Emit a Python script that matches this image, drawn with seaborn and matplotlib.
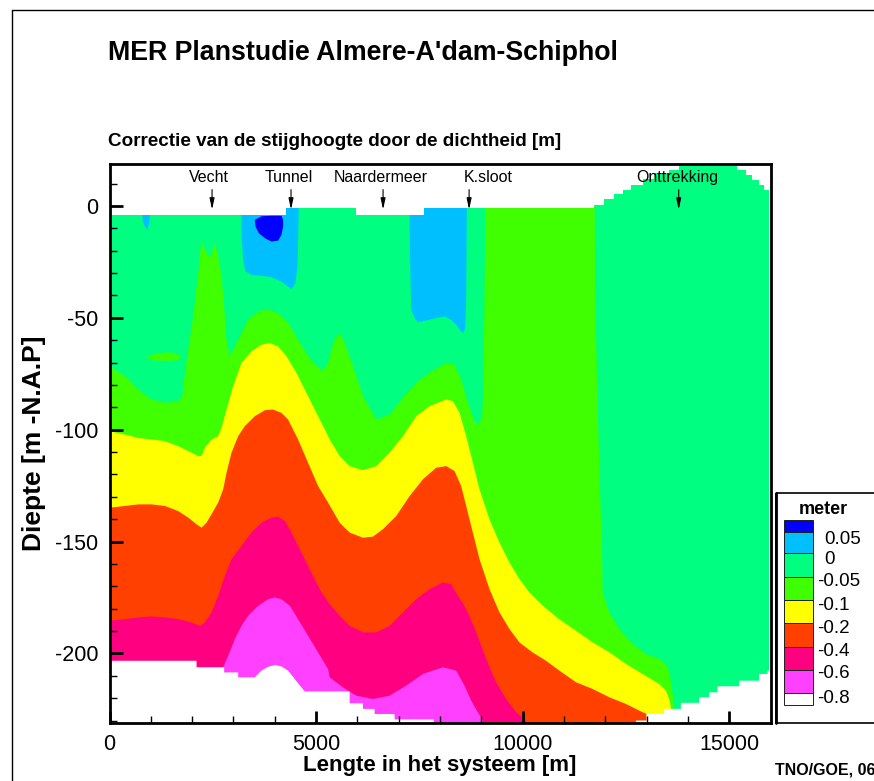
import numpy as np
import matplotlib
matplotlib.use("Agg")
import matplotlib.pyplot as plt
from matplotlib.patches import Rectangle
import seaborn as sns

# ---------------- data ----------------
# contour levels [m] and the Tecplot band colours (highest band first)
level_labels = ["0.05", "0", "-0.05", "-0.1", "-0.2", "-0.4", "-0.6", "-0.8"]
band_colors = ["#0000FF", "#00BFFF", "#00FF80", "#40FF00", "#FFFF00",
               "#FF4000", "#FF0080", "#FF40FF", "#FFFFFF"]

# depth [m] of the upper edge of each band, as a function of x [m]
# (-240 = band absent, below the model bottom)
b_green_x = [0, 375, 697, 1019, 1342, 1664, 1760, 1809, 1905, 2026, 2147, 2227, 2308, 2429,
             2550, 2630, 2711, 2775, 2832, 2912, 3033, 3194, 3356, 3597, 3839, 4081, 4323,
             4564, 4806, 5048, 5169, 5290, 5370, 5450, 5571, 5692, 5893, 6135, 6457, 6779,
             7102, 7424, 7746, 8149, 8350, 8511, 8672, 8834, 8938, 9019, 9051, 9076, 9092,
             9116, 11733, 11760, 11800, 11860, 11920, 11934, 12096, 12337, 12660, 12982,
             13304, 13465, 13546, 13626, 13667, 13680, 16000]
b_green_d = [-71.7, -76.1, -82.1, -86.5, -88.0, -87.3, -85.1, -77.6, -64.2, -49.4, -30.0,
             -15.2, -19.6, -23.3, -16.7, -22.6, -31.5, -44.9, -59.8, -67.2, -62.8, -56.8,
             -50.9, -47.1, -46.4, -47.9, -52.3, -59.8, -67.2, -72.4, -73.5, -70.2, -64.0,
             -59.8, -56.8, -61.3, -71.7, -85.1, -95.5, -93.2, -85.8, -79.1, -74.6, -70.2,
             -70.9, -77.6, -88.0, -96.2, -97.7, -94.0, -79.1, -41.9, -12.2, 19, 19, -40,
             -80, -120, -155, -172.8, -181.7, -189.1, -195.8, -200.3, -202.5, -204.7,
             -208.5, -217.4, -224.1, -240, -240]

b_yellow_x = [0, 375, 697, 1019, 1342, 1664, 1986, 2147, 2227, 2308, 2469, 2630, 2711, 2832,
              2993, 3194, 3436, 3678, 3879, 4081, 4282, 4524, 4766, 5008, 5250, 5329, 5571,
              5812, 6135, 6457, 6779, 7102, 7424, 7746, 8149, 8310, 8472, 8632, 8794, 8955,
              9197, 9438, 9680, 9921, 10163, 10486, 10888, 11290, 11693, 12096, 12498,
              12901, 13304, 13465, 13546, 13586, 13600, 16000]
b_yellow_d = [-100.7, -102.2, -103.7, -104.4, -105.1, -107.4, -110.3, -111.8, -111.8, -108.1,
              -104.4, -102.9, -99.2, -91.0, -80.6, -70.2, -65.0, -62.0, -61.3, -62.8, -67.2,
              -74.6, -83.6, -92.5, -101.4, -104.4, -111.8, -116.3, -118.1, -116.3, -110.3,
              -102.9, -94.0, -89.5, -86.5, -87.3, -92.5, -102.9, -114.8, -126.7, -140.1,
              -150.5, -159.4, -166.8, -172.8, -178.7, -184.8, -189.9, -195.1, -199.5,
              -204.7, -209.2, -213.7, -216.6, -220.4, -224.1, -240, -240]

b_orange_x = [0, 375, 697, 1019, 1342, 1664, 1905, 2107, 2227, 2348, 2469, 2630, 2751, 2832,
              2953, 3114, 3275, 3517, 3759, 3960, 4162, 4323, 4564, 4806, 5048, 5290, 5571,
              5812, 6135, 6376, 6618, 6940, 7263, 7585, 7907, 8149, 8350, 8511, 8632, 8794,
              8955, 9197, 9438, 9680, 9921, 10243, 10566, 10888, 11290, 11693, 12096, 12498,
              12901, 12998, 13010, 16000]
b_orange_d = [-134.9, -134.1, -133.4, -133.4, -134.1, -136.4, -139.3, -142.3, -143.8, -141.6,
              -137.8, -132.6, -126.7, -119.3, -110.3, -102.9, -98.4, -94.0, -91.3, -91.0,
              -92.5, -95.5, -104.4, -114.8, -125.2, -132.6, -141.6, -146.0, -148.3, -147.8,
              -144.5, -138.6, -129.7, -122.2, -117.0, -116.3, -118.5, -125.2, -134.1, -146.0,
              -157.9, -171.3, -181.7, -189.1, -195.1, -199.6, -203.3, -207.7, -212.9,
              -215.9, -219.6, -222.6, -226.3, -227.0, -240, -240]

b_pink_x = [0, 375, 697, 1019, 1342, 1664, 1986, 2187, 2308, 2469, 2630, 2792, 2953, 3194,
            3436, 3678, 3920, 4081, 4242, 4403, 4645, 4887, 5129, 5330, 5571, 5812, 6135,
            6457, 6779, 7102, 7424, 7746, 8068, 8270, 8431, 8552, 8713, 8874, 9116, 9358,
            9600, 9841, 10083, 10150, 16000]
b_pink_d = [-185.4, -184.7, -183.9, -183.5, -183.9, -184.7, -186.2, -187.7, -186.2, -181.7,
            -174.3, -165.4, -157.9, -152.0, -146.0, -141.6, -139.3, -138.9, -140.8, -146.0,
            -154.9, -163.9, -172.8, -178.0, -183.2, -187.7, -190.6, -190.6, -187.7, -181.7,
            -175.8, -171.3, -168.3, -169.1, -174.3, -177.5, -183.5, -190.6, -202.5, -213.0,
            -220.4, -226.3, -230.0, -240, -240]

b_magenta_x = [0, 2740, 2751, 2872, 3033, 3194, 3356, 3597, 3839, 4000, 4162, 4363, 4564,
               4806, 5048, 5290, 5329, 5651, 5974, 6376, 6779, 7182, 7585, 8068, 8390, 8592,
               8753, 8914, 9035, 9050, 16000]
b_magenta_d = [-240, -240, -206.2, -201.0, -193.6, -187.7, -183.2, -178.7, -175.8, -175.0,
               -175.8, -178.7, -184.7, -192.1, -199.6, -207.0, -210.7, -215.2, -218.9,
               -220.4, -218.9, -214.4, -209.2, -206.2, -207.7, -214.4, -221.1, -226.3,
               -230.0, -240, -240]

# model bottom (white below)
bottom_x = [0, 2107, 2107, 2775, 2775, 3114, 3114, 3517, 3678, 3839, 4000, 4162, 4323, 4484,
            4645, 4726, 5812, 5812, 6135, 6135, 6417, 6417, 6900, 6900, 7850, 7850, 12740,
            12740, 12998, 12998, 13425, 13425, 13828, 13828, 14271, 14271, 14513, 14513,
            14714, 14714, 15238, 15238, 15721, 15721, 15923, 15923, 16000]
bottom_d = [-203.3, -203.3, -206.2, -206.2, -208.5, -208.5, -210.7, -210.7, -207.7, -206.0,
            -205.2, -205.8, -207.7, -211.5, -215.2, -217.0, -217.0, -222.3, -222.3, -224.8,
            -224.8, -227.1, -227.1, -229.5, -229.5, -240, -240, -230.0, -230.0, -227.0,
            -227.0, -224.8, -224.8, -222.1, -222.1, -219.6, -219.6, -217.4, -217.4, -214.7,
            -214.7, -212.2, -212.2, -209.2, -209.2, -207.7, -207.7]

# model top (white above), stepwise
top_x = [0, 4280, 5973, 7609, 11733, 11975, 12216, 12418, 12619, 12901, 13183, 13546, 13788,
         15197, 15399, 15560, 15721, 15842, 15950, 16000]
top_d = [-4.0, -1.0, -4.0, -1.0, 0.6, 3.3, 5.4, 7.3, 9.5, 12.2, 14.7, 16.2, 18.1, 16.2, 14.0,
         11.7, 9.5, 7.3, -240, -240]

# pockets of 0 .. 0.05 (light blue), > 0.05 (blue) and a small -0.05 .. -0.1 lens
drip_x = [778, 995, 963, 914, 858, 802]
drip_d = [0, 0, -7.7, -10.7, -9.2, -6.5]
tunnel_x = [3194, 3194, 3235, 3291, 3436, 3678, 3920, 4162, 4323, 4403, 4500, 4548, 4564, 4580]
tunnel_d = [0, -12.2, -24.1, -29.3, -30.8, -31.2, -31.8, -33.8, -36.0, -37.2, -34.5, -27.1,
            -16.7, 0]
core_x = [3517, 3678, 3920, 4162, 4202, 4202, 4162, 4081, 3920, 3759, 3614, 3533]
core_d = [-6.2, -4.6, -4.4, -4.4, -6.2, -9.2, -12.9, -15.5, -15.9, -14.4, -12.2, -9.2]
ksloot_x = [7263, 7270, 7287, 7303, 7384, 7464, 7665, 7907, 8109, 8270, 8391, 8511, 8568,
            8608, 8632, 8648]
ksloot_d = [0, -20.0, -34.5, -46.4, -50.1, -51.9, -51.2, -50.1, -49.4, -50.9, -53.1, -56.1,
            -56.8, -54.6, -41.9, 0]
lens_x = [880, 1100, 1422, 1624, 1744, 1503, 1100]
lens_d = [-68.0, -66.0, -65.4, -66.0, -68.3, -69.2, -69.1]

# locations marked above the section
place_names = ["Vecht", "Tunnel", "Naardermeer", "K.sloot", "Onttrekking"]
place_text_x = [2405, 4338, 6573, 9171, 13739]
place_arrow_x = [2482, 4393, 6621, 8703, 13776]

xticks_major = [0, 5000, 10000, 15000]
yticks_major = [-200, -150, -100, -50, 0]

# ---------------- styling ----------------
sns.set_theme(style="white", rc={"axes.edgecolor": "black", "text.color": "black",
                                 "xtick.color": "black", "ytick.color": "black",
                                 "axes.labelcolor": "black"})
plt.rcParams["font.family"] = ["Liberation Sans", "DejaVu Sans"]
plt.rcParams["axes.unicode_minus"] = False
pal = sns.color_palette(band_colors)

W, H = 874, 781
fig = plt.figure(figsize=(W / 100, H / 100), dpi=100)
fig.patch.set_facecolor("white")
AX_L, AX_R, AX_T, AX_B = 109.5, 770.6, 164.0, 723.3
ax = fig.add_axes([AX_L / W, 1 - AX_B / H, (AX_R - AX_L) / W, (AX_B - AX_T) / H])
ax.set_axisbelow(False)

FLOOR, CEIL = -260, 40
kw = dict(lw=0, edgecolor="none")
ax.fill_between([0, 16000], FLOOR, CEIL, color=pal[2], **kw)
bands = [(b_green_x, b_green_d), (b_yellow_x, b_yellow_d), (b_orange_x, b_orange_d),
         (b_pink_x, b_pink_d), (b_magenta_x, b_magenta_d)]
for (bx, bd), col in zip(bands, pal[3:8]):
    ax.fill_between(bx, bd, FLOOR, color=col, **kw)
ax.fill_between(bottom_x, bottom_d, FLOOR, color=pal[8], **kw)
ax.fill(lens_x, lens_d, color=pal[3], **kw)
ax.fill(drip_x, drip_d, color=pal[1], **kw)
ax.fill(tunnel_x, tunnel_d, color=pal[1], **kw)
ax.fill(ksloot_x, ksloot_d, color=pal[1], **kw)
ax.fill(core_x, core_d, color=pal[0], **kw)
ax.fill_between(top_x, top_d, CEIL, step="post", color="white", **kw)

for name, tx, axx in zip(place_names, place_text_x, place_arrow_x):
    ax.text(tx, 12.5, name, ha="center", va="center", fontsize=11.5, zorder=6)
    ax.annotate("", xy=(axx, -1.6), xytext=(axx, 7.3), zorder=6,
                arrowprops=dict(arrowstyle="-|>,head_length=0.55,head_width=0.12",
                                color="black", lw=0.8, shrinkA=0, shrinkB=0))

ax.set_xlim(0, 16000)
ax.set_ylim(-231.25, 18.75)
ax.set_xticks(xticks_major)
ax.set_xticks(np.arange(0, 16001, 1000), minor=True)
ax.set_yticks(yticks_major)
ax.set_yticks(np.arange(-230, 11, 10), minor=True)
ax.tick_params(which="both", direction="in", bottom=True, left=True, top=False, right=False)
ax.tick_params(which="major", length=9, width=2, labelsize=15.5)
ax.tick_params(axis="x", which="major", pad=8)
ax.tick_params(axis="y", which="major", pad=8)
ax.tick_params(which="minor", length=5, width=1)
for s in ax.spines.values():
    s.set_linewidth(2)
    s.set_color("black")
    s.set_zorder(7)

# ---------------- texts ----------------
fig.text(108 / W, 1 - 53 / H, "MER Planstudie Almere-A'dam-Schiphol", fontsize=19.3,
         weight="bold", ha="left", va="center")
fig.text(108 / W, 1 - 142 / H, "Correctie van de stijghoogte door de dichtheid [m]",
         fontsize=13.6, weight="bold", ha="left", va="center")
fig.text(440 / W, 1 - 765 / H, "Lengte in het systeem [m]", fontsize=16, weight="bold",
         ha="center", va="center")
fig.text(34 / W, 1 - 443.6 / H, "Diepte [m -N.A.P]", fontsize=19, weight="bold",
         rotation=90, ha="center", va="center")
fig.text(775 / W, 1 - 770 / H, "TNO/GOE, 06", fontsize=11.5, weight="bold",
         ha="left", va="center")

# ---------------- frame and legend (pixel overlay) ----------------
lax = fig.add_axes([0, 0, 1, 1], facecolor="none", zorder=10)
lax.set_xlim(0, W)
lax.set_ylim(H, 0)
lax.axis("off")
lax.plot([11.5, 11.5], [9.5, H], color="black", lw=1)
lax.plot([11.5, W], [9.5, 9.5], color="black", lw=1)
lax.add_patch(Rectangle((775.5, 493), 120, 230, fill=False, ec="black", lw=1.2))
lax.plot([775.5, 775.5], [493, 723], color="black", lw=2)
lax.text(823, 509, "meter", fontsize=13, weight="bold", ha="center", va="center")
box_edges = [520, 531.7, 553.3, 576.7, 600, 623.3, 646.7, 670, 693.3, 705]
for i in range(len(band_colors)):
    lax.add_patch(Rectangle((784, box_edges[i]), 28.7, box_edges[i + 1] - box_edges[i],
                            fc=pal[i], ec="#202020", lw=0.7))
label_y = [540, 560, 581.7, 605, 628.3, 651.7, 673.3, 698.3]
for lab, yy in zip(level_labels, label_y):
    xx = 816.7 if lab.startswith("-") else 824.5
    lax.text(xx, yy, lab, fontsize=13.5, ha="left", va="center")

fig.savefig("out.png", dpi=100)
